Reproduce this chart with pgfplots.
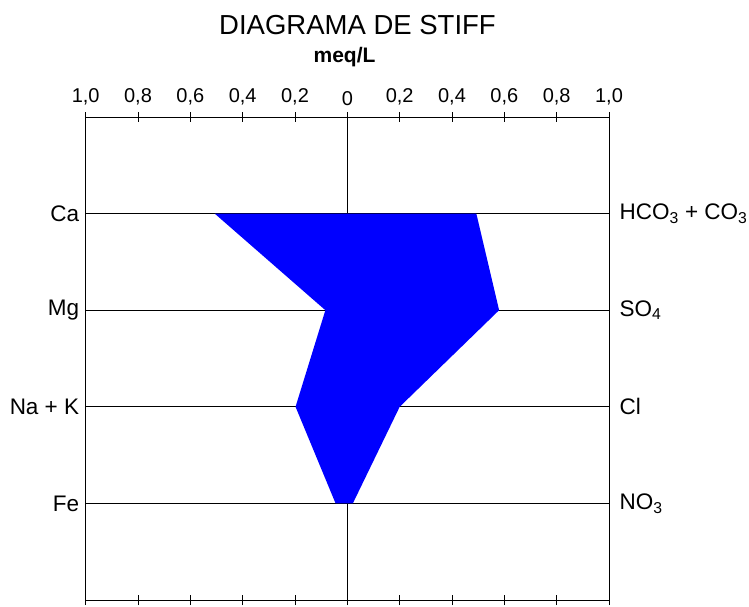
\documentclass[border=0pt]{standalone}
\usepackage{fontspec}
\setmainfont{Liberation Sans}
\usepackage{pgfplots}
\pgfplotsset{compat=1.18}
\begin{document}
\begin{tikzpicture}[x=1pt,y=1pt]
\path[use as bounding box] (0,0) rectangle (749,607);
\begin{axis}[
  at={(85.7pt,7pt)}, anchor=south west, scale only axis,
  width=523.3pt, height=483pt,
  xmin=-1, xmax=1, ymin=0, ymax=5, y dir=reverse,
  xtick={-1,-0.8,-0.6,-0.4,-0.2,0,0.2,0.4,0.6,0.8,1},
  xticklabels={{1,0},{0,8},{0,6},{0,4},{0,2},{0},{0,2},{0,4},{0,6},{0,8},{1,0}},
  xtick pos=both, xticklabel pos=right, tick align=center, major tick length=10pt,
  ytick=\empty,
  tick style={black, line width=0.8pt},
  axis line style={black, line width=0.8pt},
  ticklabel style={font=\fontsize{20}{20}\selectfont},
  xticklabel style={yshift=3pt},
  clip=false,
]
\addplot[black, line width=0.8pt] coordinates {(-1,1) (1,1)};
\addplot[black, line width=0.8pt] coordinates {(-1,2) (1,2)};
\addplot[black, line width=0.8pt] coordinates {(-1,3) (1,3)};
\addplot[black, line width=0.8pt] coordinates {(-1,4) (1,4)};
\addplot[black, line width=0.8pt] coordinates {(0,0) (0,5)};
\addplot[fill={rgb,255:red,0;green,0;blue,255}, draw=none] coordinates {
  (-0.507,1) (-0.084,2) (-0.198,3) (-0.045,4) (0.021,4) (0.200,3) (0.580,2) (0.493,1)} -- cycle;
\begin{scope}[every node/.style={font=\fontsize{22.5}{22.5}\selectfont}]
\node[anchor=east] at ([xshift=-3pt]axis cs:-1,1) {Ca};
\node[anchor=east] at ([xshift=-3pt]axis cs:-1,2) {Mg};
\node[anchor=east] at ([xshift=-3pt]axis cs:-1,3) {Na + K};
\node[anchor=east] at ([xshift=-3pt]axis cs:-1,4) {Fe};
\node[anchor=west] at ([xshift=7pt]axis cs:1,1) {HCO\textsubscript{3} + CO\textsubscript{3}};
\node[anchor=west] at ([xshift=7pt]axis cs:1,2) {SO\textsubscript{4}};
\node[anchor=west] at ([xshift=7pt]axis cs:1,3) {Cl};
\node[anchor=west] at ([xshift=7pt]axis cs:1,4) {NO\textsubscript{3}};
\end{scope}
\end{axis}
\node[font=\fontsize{27.5}{27.5}\selectfont, anchor=base] at (357.5,572) {DIAGRAMA DE STIFF};
\node[font=\fontsize{21}{21}\selectfont\bfseries, anchor=base] at (344.5,544) {meq/L};
\end{tikzpicture}
\end{document}
